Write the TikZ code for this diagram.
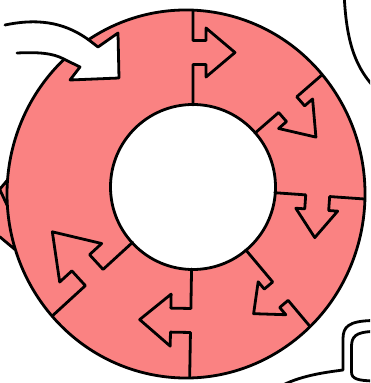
\documentclass[tikz,border=0pt]{standalone}
\usepackage[dvipsnames]{xcolor}
\usepackage{tikz}
\usetikzlibrary{calc}
\definecolor{ringpink}{RGB}{250,130,130}

\begin{document}
\begin{tikzpicture}[x=1pt, y=1pt, line width=2.8pt]
  \tikzstyle{ink}=[black, line join=round, line cap=round]
  \tikzstyle{rim}=[x radius=179, y radius=184]

  \useasboundingbox (-193,-196) rectangle (177,187);
  \fill[white] (-193,-196) rectangle (177,187);
  \clip (-193,-196) rectangle (177,187);

  \coordinate (origin) at (0,0);   % centre of the hole
  \coordinate (ecen) at (-7,-7);   % centre of the outer rim

  % where the incoming arrow meets the rim
  \coordinate (jup) at ($(ecen)+(123:179 and 184)$);
  \coordinate (jlo) at ($(ecen)+(132.9:179 and 184)$);
  % incoming arrow head
  \coordinate (nup) at (-95,140);
  \coordinate (nlo) at (-113,120);
  \coordinate (hl) at (-123,107);
  \coordinate (tip) at (-74,109);
  \coordinate (ht) at (-75,154);
  % shaft ends
  \coordinate (upstart) at (-188,162);
  \coordinate (lowstart) at (-176,134);
  % left edge, something leaves the picture here
  \coordinate (lout) at (-193,-2);
  \coordinate (lin) at (-193,-50);
  \coordinate (lback) at ($(ecen)+(-162.3:179 and 184)$);

  %% Ring
  \fill[ringpink, even odd rule] (jlo) -- (nlo) -- (hl) -- (tip) -- (ht) -- (nup) -- (jup)
    arc[rim, start angle=123, end angle=-184.4]
    -- (lout) -- (-215,-5) -- (-215,-48) -- (lin) -- (lback)
    arc[rim, start angle=-162.3, end angle=-227.1] -- cycle
    (origin) circle[radius=82.5];

  % Segment edges with their arrows
  \begin{scope}[ink]
    \clip (ecen) ellipse[rim];
    \draw[rotate=90] (82,0) -- (122.5,0) -- (122.5,-13) -- (110,-13) -- (134.5,-42)
      -- (159,-13) -- (146.5,-13) -- (146.5,0) -- (200,0);
    \draw[rotate=41] (82,0) -- (113.5,0) -- (113.5,-12) -- (103,-12) -- (125.5,-43)
      -- (148,-12) -- (137.5,-12) -- (137.5,0) -- (200,0);
    \draw[rotate=-4] (82,0) -- (113,0) -- (113,-14) -- (104,-14) -- (125,-42)
      -- (146,-14) -- (137,-14) -- (137,0) -- (200,0);
    \draw[rotate=-50] (82,0) -- (124,0) -- (124,-11) -- (114.5,-11) -- (136,-35)
      -- (157.5,-11) -- (148,-11) -- (148,0) -- (200,0);
    \draw[rotate=-91] (82,0) -- (121.5,0) -- (121.5,-20) -- (107.5,-20) -- (133.5,-51)
      -- (159.5,-20) -- (145.5,-20) -- (145.5,0) -- (200,0);
    \draw[rotate=-137.5] (82,0) -- (122,0) -- (122,-20) -- (105.5,-20) -- (134,-62)
      -- (162.5,-20) -- (146,-20) -- (146,0) -- (200,0);
  \end{scope}

  % Rim and hole
  \draw[ink] (jlo) -- (nlo) -- (hl) -- (tip) -- (ht) -- (nup) -- (jup)
    arc[rim, start angle=123, end angle=-184.4]
    -- (lout) -- (-215,-5) -- (-215,-48) -- (lin) -- (lback)
    arc[rim, start angle=-162.3, end angle=-227.1] -- cycle;
  \draw[ink] (-193,-3) -- (-186,-18);
  \draw[ink] (origin) circle[radius=82.5];

  % Incoming arrow shaft
  \draw[ink] (upstart) .. controls (-150,170) and (-125,162) .. (jup);
  \draw[ink] (lowstart) .. controls (-155,135) and (-140,134) .. (jlo);

  %% Neighbours, cut off at the edge
  \coordinate (tra) at (151,195);
  \coordinate (trb) at (185,96);
  \draw[ink] (tra) .. controls (153,150) and (160,120) .. (trb);

  \coordinate (bra) at (180,-133.5);
  \coordinate (brb) at (150,-183);
  \draw[ink] (bra) .. controls (155,-134) and (150,-140) .. (150,-152) -- (brb)
    .. controls (135,-185) and (110,-188) .. (90,-198);
  \coordinate (brc) at (180,-144.5);
  \coordinate (brd) at (180,-194);
  \draw[ink] (brc) .. controls (162,-145) and (158.5,-150) .. (158.5,-160) -- (158.5,-185)
    .. controls (158.5,-192) and (165,-193.5) .. (brd);
\end{tikzpicture}
\end{document}
